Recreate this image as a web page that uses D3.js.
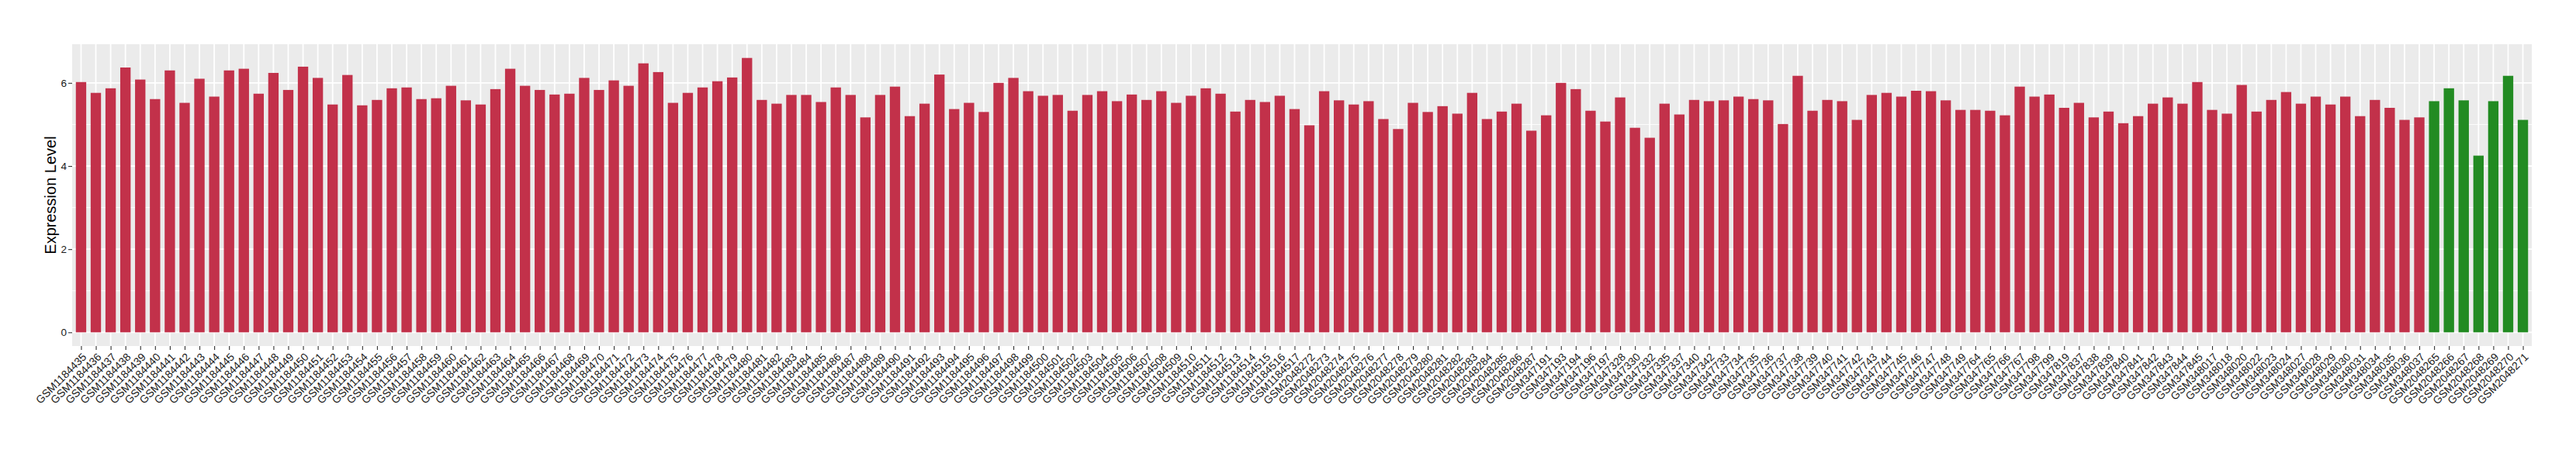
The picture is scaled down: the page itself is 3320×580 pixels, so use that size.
<!DOCTYPE html>
<html>
<head>
<meta charset="utf-8">
<script src="https://cdn.jsdelivr.net/npm/d3@7"></script>
<style>
    body { margin: 0; background: #fff; }
    text { font-family: "Liberation Sans", Arial, sans-serif; }
</style>
</head>
<body>
<script>
// tumour samples (red) and normal samples (green), in plotting order
var tumorSamples = [
    "GSM1184435","GSM1184436","GSM1184437","GSM1184438","GSM1184439","GSM1184440","GSM1184441","GSM1184442","GSM1184443","GSM1184444",
    "GSM1184445","GSM1184446","GSM1184447","GSM1184448","GSM1184449","GSM1184450","GSM1184451","GSM1184452","GSM1184453","GSM1184454",
    "GSM1184455","GSM1184456","GSM1184457","GSM1184458","GSM1184459","GSM1184460","GSM1184461","GSM1184462","GSM1184463","GSM1184464",
    "GSM1184465","GSM1184466","GSM1184467","GSM1184468","GSM1184469","GSM1184470","GSM1184471","GSM1184472","GSM1184473","GSM1184474",
    "GSM1184475","GSM1184476","GSM1184477","GSM1184478","GSM1184479","GSM1184480","GSM1184481","GSM1184482","GSM1184483","GSM1184484",
    "GSM1184485","GSM1184486","GSM1184487","GSM1184488","GSM1184489","GSM1184490","GSM1184491","GSM1184492","GSM1184493","GSM1184494",
    "GSM1184495","GSM1184496","GSM1184497","GSM1184498","GSM1184499","GSM1184500","GSM1184501","GSM1184502","GSM1184503","GSM1184504",
    "GSM1184505","GSM1184506","GSM1184507","GSM1184508","GSM1184509","GSM1184510","GSM1184511","GSM1184512","GSM1184513","GSM1184514",
    "GSM1184515","GSM1184516","GSM1184517",
    "GSM2048272","GSM2048273","GSM2048274","GSM2048275","GSM2048276","GSM2048277","GSM2048278","GSM2048279","GSM2048280","GSM2048281",
    "GSM2048282","GSM2048283","GSM2048284","GSM2048285","GSM2048286","GSM2048287",
    "GSM347191","GSM347193","GSM347194","GSM347196","GSM347197","GSM347328","GSM347330","GSM347332","GSM347335","GSM347337",
    "GSM347340","GSM347342","GSM347733","GSM347734","GSM347735","GSM347736","GSM347737","GSM347738","GSM347739","GSM347740",
    "GSM347741","GSM347742","GSM347743","GSM347744","GSM347745","GSM347746","GSM347747","GSM347748","GSM347749","GSM347764",
    "GSM347765","GSM347766","GSM347767","GSM347798","GSM347799","GSM347819","GSM347837","GSM347838","GSM347839","GSM347840",
    "GSM347841","GSM347842","GSM347843","GSM347844","GSM347845",
    "GSM348017","GSM348018","GSM348020","GSM348022","GSM348023","GSM348024","GSM348027","GSM348028","GSM348029","GSM348030",
    "GSM348031","GSM348034","GSM348035","GSM348036","GSM348037"
];
var tumorValues = [
    6.02,5.76,5.87,6.37,6.08,5.61,6.30,5.52,6.10,5.67,
    6.30,6.34,5.74,6.24,5.83,6.39,6.12,5.48,6.19,5.46,
    5.59,5.87,5.89,5.61,5.63,5.93,5.58,5.48,5.85,6.34,
    5.93,5.83,5.72,5.74,6.12,5.83,6.06,5.93,6.47,6.26,
    5.52,5.76,5.89,6.04,6.13,6.60,5.59,5.50,5.71,5.71,
    5.54,5.89,5.71,5.17,5.71,5.91,5.20,5.50,6.20,5.37,
    5.52,5.30,6.00,6.12,5.80,5.69,5.71,5.33,5.71,5.80,
    5.56,5.72,5.59,5.80,5.52,5.69,5.87,5.74,5.31,5.59,
    5.54,5.69,5.37,
    4.98,5.80,5.58,5.48,5.56,5.13,4.89,5.52,5.30,5.44,
    5.26,5.76,5.13,5.31,5.50,4.85,
    5.22,6.00,5.85,5.33,5.07,5.65,4.92,4.68,5.50,5.24,
    5.59,5.56,5.58,5.67,5.61,5.58,5.01,6.17,5.33,5.59,
    5.56,5.11,5.71,5.76,5.67,5.81,5.80,5.58,5.35,5.35,
    5.33,5.22,5.91,5.67,5.72,5.40,5.52,5.17,5.31,5.03,
    5.20,5.50,5.65,5.50,6.02,
    5.35,5.26,5.95,5.31,5.59,5.78,5.50,5.67,5.48,5.67,
    5.20,5.59,5.40,5.11,5.17
];
var normalSamples = ["GSM2048265","GSM2048266","GSM2048267","GSM2048268","GSM2048269","GSM2048270","GSM2048271"];
var normalValues = [5.56,5.87,5.58,4.25,5.56,6.17,5.11];

var yTicks = [0, 2, 4, 6];
var yMinorTicks = [1, 3, 5];
var yLabel = "Expression Level";

var tumorColor = "#C2314A",
    normalColor = "#228B22";

var data = [];
tumorSamples.forEach(function(s, i) {
    data.push({sample: s, value: tumorValues[i], color: tumorColor});
});
normalSamples.forEach(function(s, i) {
    data.push({sample: s, value: normalValues[i], color: normalColor});
});

// panel box, ggplot style
var width = 3320, height = 580;
var margin = {top: 57, right: 57, bottom: 134, left: 93};
var panelW = width - margin.left - margin.right,
    panelH = height - margin.top - margin.bottom;

var svg = d3.select("body")
    .append("svg")
    .attr("width", width)
    .attr("height", height);

var g = svg.append("g")
    .attr("transform", "translate(" + margin.left + "," + margin.top + ")");

var maxVal = d3.max(data, function(d) { return d.value; });
var pad = maxVal * 0.05;

var x = d3.scalePoint()
    .domain(data.map(function(d) { return d.sample; }))
    .range([0, panelW])
    .padding(0.6);

var y = d3.scaleLinear()
    .domain([-pad, maxVal + pad])
    .range([panelH, 0]);

var barW = x.step() * 0.7;

// panel background
g.append("rect")
    .attr("width", panelW)
    .attr("height", panelH)
    .style("fill", "#EBEBEB");

// minor grid
g.selectAll(".minor")
    .data(yMinorTicks)
    .enter()
    .append("line")
    .attr("x1", 0).attr("x2", panelW)
    .attr("y1", function(d) { return y(d); })
    .attr("y2", function(d) { return y(d); })
    .style("stroke", "#fff")
    .style("stroke-width", 0.9);

// major grid
g.selectAll(".hgrid")
    .data(yTicks)
    .enter()
    .append("line")
    .attr("x1", 0).attr("x2", panelW)
    .attr("y1", function(d) { return y(d); })
    .attr("y2", function(d) { return y(d); })
    .style("stroke", "#fff")
    .style("stroke-width", 1.8);

g.selectAll(".vgrid")
    .data(data)
    .enter()
    .append("line")
    .attr("x1", function(d) { return x(d.sample); })
    .attr("x2", function(d) { return x(d.sample); })
    .attr("y1", 0).attr("y2", panelH)
    .style("stroke", "#fff")
    .style("stroke-width", 1.8);

// bars
g.selectAll(".bar")
    .data(data)
    .enter()
    .append("rect")
    .attr("class", "bar")
    .attr("x", function(d) { return x(d.sample) - barW / 2; })
    .attr("width", barW)
    .attr("y", function(d) { return y(d.value); })
    .attr("height", function(d) { return y(0) - y(d.value); })
    .style("fill", function(d) { return d.color; });

// y axis
var yAxis = g.append("g")
    .call(d3.axisLeft(y).tickValues(yTicks).tickSize(5).tickPadding(2).tickFormat(d3.format("d")));
yAxis.select(".domain").remove();
yAxis.selectAll("line").style("stroke", "#333").style("stroke-width", 1.1);
yAxis.selectAll("text")
    .style("font-size", "13.5px")
    .style("fill", "#1a1a1a");

// x axis
var xAxis = g.append("g")
    .attr("transform", "translate(0," + panelH + ")")
    .call(d3.axisBottom(x).tickSize(5).tickPadding(0));
xAxis.select(".domain").remove();
xAxis.selectAll("line").style("stroke", "#333").style("stroke-width", 1.1);
xAxis.selectAll("text")
    .attr("y", 0)
    .attr("dy", "0.75em")
    .attr("transform", "translate(0,7.5) rotate(-45)")
    .style("text-anchor", "end")
    .style("font-size", "14px")
    .style("fill", "#1a1a1a");

// axis title
svg.append("text")
    .attr("transform", "translate(72," + (margin.top + panelH / 2) + ") rotate(-90)")
    .attr("text-anchor", "middle")
    .style("font-size", "20px")
    .style("fill", "#000")
    .text(yLabel);
</script>
</body>
</html>
